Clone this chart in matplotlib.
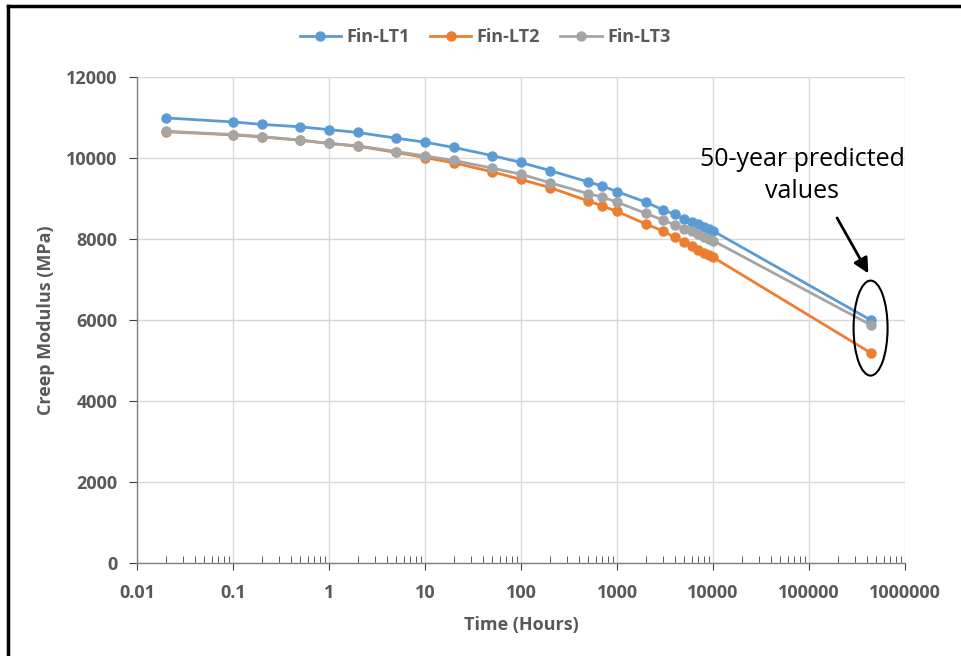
import numpy as np
import matplotlib.pyplot as plt
from matplotlib.patches import Ellipse
from matplotlib.transforms import ScaledTranslation
from matplotlib.ticker import LogLocator, FixedLocator, NullFormatter

# Zeit [h]
time_h = [0.02, 0.1, 0.2, 0.5, 1, 2, 5, 10, 20, 50, 100, 200, 500, 700, 1000,
          2000, 3000, 4000, 5000, 6000, 7000, 8000, 9000, 10000, 438000]

# Kriechmodul [MPa]
lt1 = [10990, 10890, 10830, 10770, 10700, 10630, 10490, 10390, 10260, 10060, 9890,
       9690, 9410, 9310, 9170, 8910, 8720, 8610, 8490, 8430, 8370, 8300, 8240, 8200, 6000]
lt2 = [10650, 10570, 10520, 10440, 10360, 10290, 10140, 10010, 9880, 9660, 9470,
       9270, 8940, 8820, 8680, 8370, 8200, 8040, 7920, 7830, 7740, 7660, 7600, 7550, 5190]
lt3 = [10660, 10580, 10530, 10440, 10360, 10300, 10160, 10050, 9940, 9750, 9600,
       9390, 9120, 9040, 8910, 8630, 8470, 8350, 8250, 8200, 8130, 8060, 8000, 7960, 5880]

x_ticks = [0.01, 0.1, 1, 10, 100, 1000, 10000, 100000, 1000000]
x_ticklabels = ['0.01', '0.1', '1', '10', '100', '1000', '10000', '100000', '1000000']
y_ticks = [0, 2000, 4000, 6000, 8000, 10000, 12000]

grau = '#595959'
plt.rcParams['font.family'] = ['Open Sans', 'DejaVu Sans']

fig = plt.figure(figsize=(9.61, 6.56), dpi=100)
ax = fig.add_axes([137/961, 1 - 563/656, (905 - 137)/961, (563 - 77)/656])

ax.plot(time_h, lt1, color='#5B9BD5', marker='o', ms=6.5, lw=2, label='Fin-LT1', zorder=3)
ax.plot(time_h, lt2, color='#ED7D31', marker='o', ms=6.5, lw=2, label='Fin-LT2', zorder=3)
ax.plot(time_h, lt3, color='#A5A5A5', marker='o', ms=6.5, lw=2, label='Fin-LT3', zorder=3)

ax.set_xscale('log')
ax.set_xlim(0.01, 1000000)
ax.set_ylim(0, 12000)
ax.xaxis.set_major_locator(FixedLocator(x_ticks))
ax.set_xticklabels(x_ticklabels)
ax.xaxis.set_minor_locator(LogLocator(base=10, subs=np.arange(2, 10), numticks=20))
ax.xaxis.set_minor_formatter(NullFormatter())
ax.set_yticks(y_ticks)

ax.grid(True, which='major', color='#D9D9D9', lw=1)
ax.set_axisbelow(True)
for s in ['top', 'right']:
    ax.spines[s].set_visible(False)
for s in ['left', 'bottom']:
    ax.spines[s].set_color('#808080')
    ax.spines[s].set_linewidth(1)

ax.tick_params(axis='x', which='major', direction='out', length=5, color='#404040',
               labelsize=13, labelcolor=grau, pad=10)
ax.tick_params(axis='x', which='minor', direction='in', length=5, color='#404040')
ax.tick_params(axis='y', which='major', direction='out', length=6, color='#404040',
               labelsize=13, labelcolor=grau, pad=8)
for lbl in ax.get_xticklabels() + ax.get_yticklabels():
    lbl.set_fontweight('bold')

ax.set_xlabel('Time (Hours)', fontsize=13, fontweight='bold', color=grau, labelpad=10)
ax.set_ylabel('Creep Modulus (MPa)', fontsize=13, fontweight='bold', color=grau, labelpad=8)

leg = fig.legend(loc='center', bbox_to_anchor=(485/961, 1 - 37/656), ncol=3, frameon=False,
                 handlelength=2.3, columnspacing=1.1, handletextpad=0.3,
                 prop={'size': 13, 'weight': 'bold'})
for t in leg.get_texts():
    t.set_color(grau)

# Markierung 50-Jahres-Werte (Ellipse in Zoll, zentriert auf Datenpunkt)
ell_tr = fig.dpi_scale_trans + ScaledTranslation(438000, 5800, ax.transData)
ax.add_patch(Ellipse((0, 0), width=0.34, height=0.95, fill=False, lw=1.5,
                     ec='black', zorder=4, transform=ell_tr))
ax.annotate('', xy=(415000, 7150), xytext=(196000, 8520),
            arrowprops=dict(arrowstyle='-|>,head_length=0.9,head_width=0.45', color='black',
                            lw=2, shrinkA=0, shrinkB=0))
ax.text(84500, 9570, '50-year predicted\nvalues', fontsize=18, ha='center', va='center',
        linespacing=1.35, color='black')

# Rahmen
fig.add_artist(plt.Line2D([8/961, 8/961], [0, 1 - 6/656], color='black', lw=2.5))
fig.add_artist(plt.Line2D([8/961, 1], [1 - 6/656, 1 - 6/656], color='black', lw=2.5))

plt.savefig('out.png', dpi=100)
